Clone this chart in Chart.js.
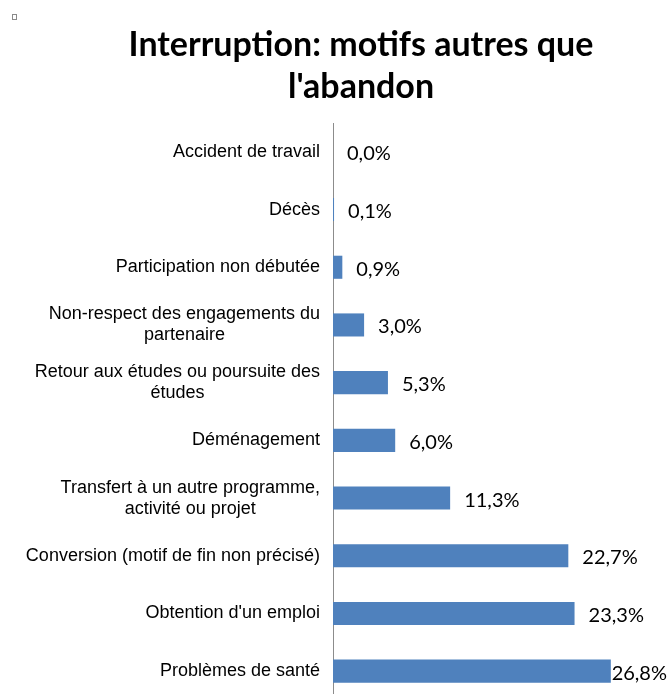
<!DOCTYPE html>
<html>
<head>
<meta charset="utf-8">
<script src="https://cdn.jsdelivr.net/npm/chart.js@4/dist/chart.umd.min.js"></script>
<style>
html, body { margin: 0; padding: 0; background: #fff; overflow: hidden; }
</style>
</head>
<body>
<canvas id="myChart" width="672" height="700"></canvas>
<script>
// categories, top to bottom (multi-line ones split as in the original)
var categories = [
    ['Accident de travail'],
    ['Décès'],
    ['Participation non débutée'],
    ['Non-respect des engagements du', 'partenaire'],
    ['Retour aux études ou poursuite des', 'études'],
    ['Déménagement'],
    ['Transfert à un autre programme,', 'activité ou projet'],
    ['Conversion (motif de fin non précisé)'],
    ["Obtention d'un emploi"],
    ['Problèmes de santé']
];
// share of interruptions, in %
var values = [0.0, 0.1, 0.9, 3.0, 5.3, 6.0, 11.3, 22.7, 23.3, 26.8];
var titleLines = ['Interruption: motifs autres que', "l'abandon"];

function pct(v) {
    return v.toFixed(1).replace('.', ',') + '%';
}

// title, category labels and value labels
var decor = {
    id: 'decor',
    afterDraw: function(chart) {
        var c = chart.ctx;
        c.save();

        // little handle square top-left
        c.strokeStyle = '#8a8a8a';
        c.lineWidth = 1;
        c.strokeRect(12.5, 14.5, 4, 5);

        c.fillStyle = '#000';
        c.font = 'bold 34px Lato';
        c.textAlign = 'center';
        c.textBaseline = 'middle';
        titleLines.forEach(function(t, i) {
            c.fillText(t, 361, 45 + i * 42);
        });

        // category labels, block right aligned, lines centered
        var yScale = chart.scales.y;
        c.font = '18px "Liberation Sans"';
        c.fillStyle = '#000';
        chart.data.labels.forEach(function(lines, i) {
            var y = yScale.getPixelForValue(i);
            var widest = 0;
            lines.forEach(function(l) { widest = Math.max(widest, c.measureText(l).width); });
            var cx = 320 - widest / 2;
            var top = y - (lines.length - 1) * 21 / 2;
            lines.forEach(function(l, j) {
                c.fillText(l, cx, top + j * 21);
            });
        });

        // value labels
        c.font = '20px Lato';
        c.textAlign = 'left';
        var meta = chart.getDatasetMeta(0);
        meta.data.forEach(function(bar, i) {
            var t = pct(values[i]);
            var w = c.measureText(t).width;
            var x = Math.min(bar.x + 14, 667 - w);
            c.fillText(t, x, bar.y + 2);
        });
        c.restore();
    }
};

var ctx = document.getElementById('myChart').getContext('2d');
var chart = new Chart(ctx, {
    type: 'bar',
    data: {
        labels: categories,
        datasets: [{
            data: values,
            backgroundColor: '#4F81BD',
            borderWidth: 0,
            categoryPercentage: 0.4,
            barPercentage: 1
        }]
    },
    options: {
        indexAxis: 'y',
        responsive: false,
        animation: false,
        devicePixelRatio: 1,
        layout: { padding: { top: 123, right: 28, left: 0, bottom: 0 } },
        plugins: {
            legend: { display: false },
            title: { display: false },
            tooltip: { enabled: false }
        },
        scales: {
            x: { display: false, min: 0, max: 30 },
            y: {
                ticks: { display: false },
                grid: { display: false, drawTicks: false },
                border: { color: '#8c8c8c', width: 1 },
                afterFit: function(s) { s.width = 333; }
            }
        }
    },
    plugins: [decor]
});
</script>
</body>
</html>
